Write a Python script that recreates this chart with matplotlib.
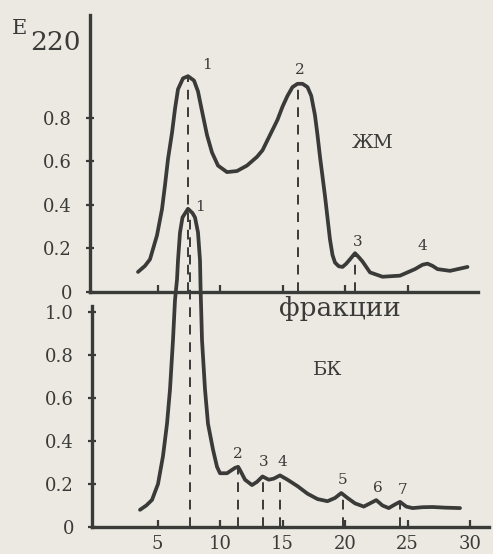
import matplotlib
matplotlib.use("Agg")
import matplotlib.pyplot as plt

# ---------------- data ----------------
# ЖМ (upper chromatogram): fraction number, E220
zm_x = [3.44, 4.0, 4.4, 4.96, 5.36, 5.6, 5.84, 6.16, 6.4, 6.64, 7.04, 7.44, 7.92,
        8.24, 8.56, 8.96, 9.36, 9.84, 10.56, 11.36, 12.16, 12.96, 13.4, 14.0,
        14.6, 15.0, 15.4, 15.8, 16.2, 16.6, 17.0, 17.3, 17.6, 17.8, 18.0, 18.4,
        18.8, 19.0, 19.2, 19.5, 19.8, 20.1, 20.4, 20.8, 21.1, 21.4, 22.0, 23.0,
        24.4, 25.6, 26.2, 26.6, 27.0, 27.4, 28.4, 29.8]
zm_y = [0.092, 0.12, 0.15, 0.26, 0.38, 0.49, 0.61, 0.73, 0.84, 0.93, 0.98, 0.99,
        0.97, 0.92, 0.83, 0.72, 0.64, 0.58, 0.55, 0.555, 0.58, 0.62, 0.65, 0.72,
        0.79, 0.85, 0.90, 0.94, 0.955, 0.955, 0.94, 0.90, 0.81, 0.72, 0.62, 0.44,
        0.24, 0.17, 0.135, 0.118, 0.115, 0.13, 0.15, 0.178, 0.16, 0.14, 0.09, 0.07,
        0.075, 0.105, 0.125, 0.13, 0.12, 0.105, 0.097, 0.115]

# БК (lower chromatogram)
bk_x = [3.6, 4.1, 4.56, 5.04, 5.44, 5.76, 6.0, 6.24, 6.4, 6.56, 6.64, 6.8, 7.0,
        7.44, 7.8, 8.0, 8.24, 8.4, 8.45, 8.5, 8.56, 8.8, 9.04, 9.44, 9.76, 10.0,
        10.56, 11.2, 11.45, 11.6, 12.0, 12.56, 12.96, 13.4, 13.9, 14.3, 14.8,
        15.4, 16.2, 17.0, 17.8, 18.6, 19.2, 19.7, 20.2, 20.8, 21.5, 22.0, 22.5,
        23.0, 23.5, 24.0, 24.4, 24.9, 25.4, 26.2, 27.0, 28.0, 29.2]
bk_y = [0.08, 0.10, 0.126, 0.20, 0.33, 0.48, 0.64, 0.87, 1.056, 1.15, 1.24, 1.37,
        1.44, 1.48, 1.46, 1.44, 1.37, 1.24, 1.10, 1.0, 0.87, 0.64, 0.48, 0.36,
        0.28, 0.25, 0.25, 0.275, 0.28, 0.265, 0.22, 0.195, 0.21, 0.235, 0.22,
        0.225, 0.24, 0.22, 0.19, 0.155, 0.13, 0.12, 0.135, 0.158, 0.135, 0.11,
        0.095, 0.11, 0.125, 0.10, 0.088, 0.105, 0.117, 0.095, 0.088, 0.092, 0.093,
        0.09, 0.088]

# peak markers (dashed lines): position, height
zm_peak_x = [7.44, 16.2, 20.8]
zm_peak_y = [0.99, 0.955, 0.17]
zm_lab = ["1", "2", "3", "4"]
zm_lab_x = [8.96, 16.4, 21.0, 26.2]
zm_lab_y = [1.04, 1.02, 0.23, 0.21]

bk_peak_x = [7.6, 11.4, 13.4, 14.8, 19.8, 24.4]
bk_peak_y = [1.46, 0.27, 0.23, 0.235, 0.15, 0.11]
bk_lab = ["1", "2", "3", "4", "5", "6", "7"]
bk_lab_x = [8.4, 11.45, 13.5, 15.0, 19.8, 22.6, 24.6]
bk_lab_y = [1.49, 0.34, 0.30, 0.30, 0.22, 0.18, 0.17]

top_yticks = [0, 0.2, 0.4, 0.6, 0.8]
top_yticklabels = ["0", "0.2", "0.4", "0.6", "0.8"]
bot_yticks = [0, 0.2, 0.4, 0.6, 0.8, 1.0]
bot_yticklabels = ["0", "0.2", "0.4", "0.6", "0.8", "1.0"]
xticks = [5, 10, 15, 20, 25, 30]
xticklabels = ["5", "10", "15", "20", "25", "30"]

# ---------------- style ----------------
W, H = 493, 554
BG = "#ebe9e2"
INK = "#3a3a38"
FONT = "DejaVu Serif"

fig = plt.figure(figsize=(W / 100, H / 100), dpi=100, facecolor=BG)


def frac(l, b, r, t):
    return [l / W, 1 - b / H, (r - l) / W, (b - t) / H]


# pixel anchors
X0 = 95.0      # px of fraction 0
SX = 12.5      # px per fraction
bot_l, bot_b, bot_r, bot_t = 92, 527, 489, 15
SYB = 215.0
top_l, top_b, top_r, top_t = 90, 292, 478, 15
SYT = 218.0

axb = fig.add_axes(frac(bot_l, bot_b, bot_r, bot_t))
axt = fig.add_axes(frac(top_l, top_b, top_r, top_t))

for ax, l, r, b, t, sy in [(axb, bot_l, bot_r, bot_b, bot_t, SYB),
                           (axt, top_l, top_r, top_b, top_t, SYT)]:
    ax.set_xlim((l - X0) / SX, (r - X0) / SX)
    ax.set_ylim(0, (b - t) / sy)
    ax.patch.set_alpha(0)
    for s in ["top", "right"]:
        ax.spines[s].set_visible(False)
    for s in ["left", "bottom"]:
        ax.spines[s].set_color(INK)
        ax.spines[s].set_linewidth(2.4)
    ax.tick_params(colors=INK, width=1.6, length=5, direction="in",
                   labelsize=13, labelcolor=INK)

axb.spines["left"].set_bounds(0, 1.03)

# lower panel
axb.plot(bk_x, bk_y, color=INK, lw=2.7, solid_capstyle="round",
         solid_joinstyle="round", clip_on=False, zorder=3)
for px, py in zip(bk_peak_x, bk_peak_y):
    axb.plot([px, px], [0, py], color=INK, lw=1.4, ls=(0, (5, 4)), zorder=2)
for s, lx, ly in zip(bk_lab, bk_lab_x, bk_lab_y):
    axb.text(lx, ly, s, fontsize=11, color=INK, family=FONT,
             ha="center", va="center", clip_on=False)
axb.set_xticks(xticks)
axb.set_xticklabels(xticklabels, family=FONT)
axb.set_yticks(bot_yticks)
axb.set_yticklabels(bot_yticklabels, family=FONT)
axb.tick_params(axis="x", pad=6)
axb.tick_params(axis="y", direction="inout", length=6, pad=10)

# upper panel
axt.plot(zm_x, zm_y, color=INK, lw=2.7, solid_capstyle="round",
         solid_joinstyle="round", zorder=3)
for px, py in zip(zm_peak_x, zm_peak_y):
    axt.plot([px, px], [0, py], color=INK, lw=1.4, ls=(0, (5, 4)), zorder=2)
for s, lx, ly in zip(zm_lab, zm_lab_x, zm_lab_y):
    axt.text(lx, ly, s, fontsize=11, color=INK, family=FONT,
             ha="center", va="center")
axt.set_xticks(xticks[:-1])
axt.set_xticklabels([])
axt.set_yticks(top_yticks)
axt.set_yticklabels(top_yticklabels, family=FONT)
axt.tick_params(axis="y", direction="inout", length=6, pad=10)


def ftext(x, y, s, size, **kw):
    fig.text(x / W, 1 - y / H, s, fontsize=size, color=INK, family=FONT,
             ha="center", va="center", **kw)


ftext(19, 29, "E", 15)
ftext(55, 43, "220", 19)
ftext(340, 308, "фракции", 19)
ftext(373, 143, "ЖМ", 14)
ftext(328, 370, "БК", 14)

fig.savefig("out.png", dpi=100, facecolor=BG)
